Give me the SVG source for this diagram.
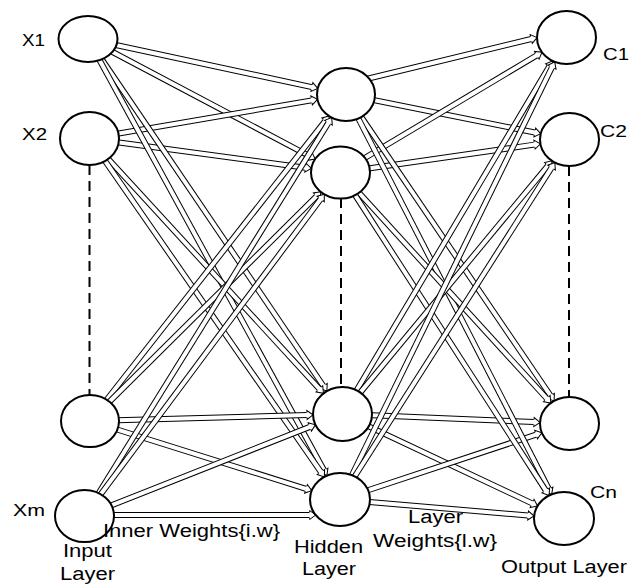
<svg xmlns="http://www.w3.org/2000/svg" width="630" height="586" viewBox="0 0 630 586">
<style>
.o{fill:none;stroke:#000;stroke-width:6}
.i{fill:none;stroke:#fff;stroke-width:4;marker-end:url(#ah)}
.node{fill:#fff;stroke:#000;stroke-width:2}
.dash{stroke:#000;stroke-width:2;stroke-dasharray:10 6;fill:none}
text{font-family:"Liberation Sans",Arial,sans-serif;fill:#000;font-size:18px}
.nl{font-size:17px}
</style>
<defs>
<marker id="ah" markerUnits="userSpaceOnUse" markerWidth="10" markerHeight="12" viewBox="-1 -6 9 12" refX="0" refY="0" orient="auto" overflow="visible">
<path d="M-0.5,-4.5 L6,0 L-0.5,4.5 Z" fill="#fff"/>
<path d="M0,-2.5 L0,-4.5 L6,0 L0,4.5 L0,2.5" fill="none" stroke="#000" stroke-width="1"/>
</marker>
<path id="p1" d="M88,39 L311.9,87.1"/>
<path id="p2" d="M88,39 L309.9,156.3"/>
<path id="p3" d="M88,39 L323.5,386.1"/>
<path id="p4" d="M88,39 L324,470.3"/>
<path id="p5" d="M89.5,138.5 L311.6,100.4"/>
<path id="p6" d="M89.5,138.5 L305.4,167.7"/>
<path id="p7" d="M89.5,138.5 L319.4,388.9"/>
<path id="p8" d="M89.5,138.5 L320.9,472"/>
<path id="p9" d="M90,421 L325.4,120.7"/>
<path id="p10" d="M90,421 L316.6,196.1"/>
<path id="p11" d="M90,421 L307,415"/>
<path id="p12" d="M90,421 L306,488.8"/>
<path id="p13" d="M84.5,516 L328.5,122.7"/>
<path id="p14" d="M84.5,516 L320.7,199"/>
<path id="p15" d="M84.5,516 L309.8,426.9"/>
<path id="p16" d="M84.5,515 L309.7,515"/>
<path id="p17" d="M350,83 L531.2,39"/>
<path id="p18" d="M346,94.5 L534.8,132.5"/>
<path id="p19" d="M346,94.5 L550.7,395.9"/>
<path id="p20" d="M346,94.5 L548.9,489.1"/>
<path id="p21" d="M340.5,172.5 L536.8,55.3"/>
<path id="p22" d="M340.5,172.5 L534.5,144.6"/>
<path id="p23" d="M340.5,172.5 L546.8,398.6"/>
<path id="p24" d="M340.5,172.5 L545.8,490.5"/>
<path id="p25" d="M342.5,414 L549.5,66.1"/>
<path id="p26" d="M342.5,414 L548.1,165.4"/>
<path id="p27" d="M342.5,414 L534,422.1"/>
<path id="p28" d="M342.5,414 L532.1,503.4"/>
<path id="p29" d="M340,499.5 L552,67.2"/>
<path id="p30" d="M340,499.5 L551.6,167.6"/>
<path id="p31" d="M340,499.5 L536.1,434.6"/>
<path id="p32" d="M340,499.5 L528.1,515.5"/>
</defs>
<rect width="630" height="586" fill="#fff"/>
<g id="connectors">
<g id="e-x1-h1"><use href="#p1" class="o"/><use href="#p1" class="i"/></g>
<g id="e-x1-h2"><use href="#p2" class="o"/><use href="#p2" class="i"/></g>
<g id="e-x2-h1"><use href="#p5" class="o"/><use href="#p5" class="i"/></g>
<g id="e-x2-h2"><use href="#p6" class="o"/><use href="#p6" class="i"/></g>
<g id="e-x1-h3"><use href="#p3" class="o"/><use href="#p3" class="i"/></g>
<g id="e-x1-h4"><use href="#p4" class="o"/><use href="#p4" class="i"/></g>
<g id="e-x2-h3"><use href="#p7" class="o"/><use href="#p7" class="i"/></g>
<g id="e-x2-h4"><use href="#p8" class="o"/><use href="#p8" class="i"/></g>
<g id="e-x3-h3"><use href="#p11" class="o"/><use href="#p11" class="i"/></g>
<g id="e-x3-h4"><use href="#p12" class="o"/><use href="#p12" class="i"/></g>
<g id="e-xm-h3"><use href="#p15" class="o"/><use href="#p15" class="i"/></g>
<g id="e-xm-h4"><use href="#p16" class="o"/><use href="#p16" class="i"/></g>
<g id="e-x3-h1"><use href="#p9" class="o"/><use href="#p9" class="i"/></g>
<g id="e-x3-h2"><use href="#p10" class="o"/><use href="#p10" class="i"/></g>
<g id="e-xm-h1"><use href="#p13" class="o"/><use href="#p13" class="i"/></g>
<g id="e-xm-h2"><use href="#p14" class="o"/><use href="#p14" class="i"/></g>
<g id="e-h1-c1"><use href="#p17" class="o"/><use href="#p17" class="i"/></g>
<g id="e-h1-c2"><use href="#p18" class="o"/><use href="#p18" class="i"/></g>
<g id="e-h2-c1"><use href="#p21" class="o"/><use href="#p21" class="i"/></g>
<g id="e-h2-c2"><use href="#p22" class="o"/><use href="#p22" class="i"/></g>
<g id="e-h3-c3"><use href="#p27" class="o"/><use href="#p27" class="i"/></g>
<g id="e-h3-cn"><use href="#p28" class="o"/><use href="#p28" class="i"/></g>
<g id="e-h4-c3"><use href="#p31" class="o"/><use href="#p31" class="i"/></g>
<g id="e-h4-cn"><use href="#p32" class="o"/><use href="#p32" class="i"/></g>
<g id="e-h1-c3"><use href="#p19" class="o"/><use href="#p19" class="i"/></g>
<g id="e-h1-cn"><use href="#p20" class="o"/><use href="#p20" class="i"/></g>
<g id="e-h2-c3"><use href="#p23" class="o"/><use href="#p23" class="i"/></g>
<g id="e-h2-cn"><use href="#p24" class="o"/><use href="#p24" class="i"/></g>
<g id="e-h3-c1"><use href="#p25" class="o"/><use href="#p25" class="i"/></g>
<g id="e-h3-c2"><use href="#p26" class="o"/><use href="#p26" class="i"/></g>
<g id="e-h4-c1"><use href="#p29" class="o"/><use href="#p29" class="i"/></g>
<g id="e-h4-c2"><use href="#p30" class="o"/><use href="#p30" class="i"/></g>
</g>
<g id="ellipsis">
<line class="dash" x1="89.5" y1="165" x2="89.5" y2="395"/>
<line class="dash" x1="341" y1="198" x2="341" y2="387"/>
<line class="dash" x1="569" y1="166" x2="569" y2="397"/>
</g>
<g id="n-x1"><ellipse class="node" cx="88" cy="39" rx="29.5" ry="23"/><text class="nl" x="22" y="46" textLength="23" lengthAdjust="spacingAndGlyphs">X1</text></g>
<g id="n-x2"><ellipse class="node" cx="89.5" cy="138.5" rx="29.5" ry="26.5"/><text class="nl" x="22" y="140" textLength="25" lengthAdjust="spacingAndGlyphs">X2</text></g>
<g id="n-x3"><ellipse class="node" cx="90" cy="421" rx="29" ry="26"/></g>
<g id="n-xm"><ellipse class="node" cx="84.5" cy="516" rx="29.5" ry="26"/><text class="nl" x="13" y="516" textLength="32" lengthAdjust="spacingAndGlyphs">Xm</text></g>
<g id="n-h1"><ellipse class="node" cx="346" cy="94.5" rx="29" ry="26.5"/></g>
<g id="n-h2"><ellipse class="node" cx="340.5" cy="172.5" rx="29.5" ry="26"/></g>
<g id="n-h3"><ellipse class="node" cx="342.5" cy="414" rx="29.5" ry="27"/></g>
<g id="n-h4"><ellipse class="node" cx="340" cy="499.5" rx="30" ry="26.5"/></g>
<g id="n-c1"><ellipse class="node" cx="566.5" cy="37.5" rx="29.5" ry="26.5"/><text class="nl" x="603" y="60" textLength="26" lengthAdjust="spacingAndGlyphs">C1</text></g>
<g id="n-c2"><ellipse class="node" cx="569.5" cy="139.5" rx="29.5" ry="26.5"/><text class="nl" x="600" y="137" textLength="27" lengthAdjust="spacingAndGlyphs">C2</text></g>
<g id="n-c3"><ellipse class="node" cx="569.5" cy="423.5" rx="29.5" ry="26.5"/></g>
<g id="n-cn"><ellipse class="node" cx="564" cy="518.5" rx="30" ry="26.5"/><text class="nl" x="590" y="498" textLength="27" lengthAdjust="spacingAndGlyphs">Cn</text></g>
<g id="labels">
<text x="103" y="537" textLength="177" lengthAdjust="spacingAndGlyphs">Inner Weights{i.w}</text>
<text x="63" y="557" textLength="49" lengthAdjust="spacingAndGlyphs">Input</text>
<text x="60" y="580" textLength="55" lengthAdjust="spacingAndGlyphs">Layer</text>
<text x="294" y="553" textLength="69" lengthAdjust="spacingAndGlyphs">Hidden</text>
<text x="302" y="575" textLength="54" lengthAdjust="spacingAndGlyphs">Layer</text>
<text x="408" y="523" textLength="55" lengthAdjust="spacingAndGlyphs">Layer</text>
<text x="373" y="547" textLength="124" lengthAdjust="spacingAndGlyphs">Weights{l.w}</text>
<text x="501" y="573" textLength="126" lengthAdjust="spacingAndGlyphs">Output Layer</text>
</g>
</svg>
